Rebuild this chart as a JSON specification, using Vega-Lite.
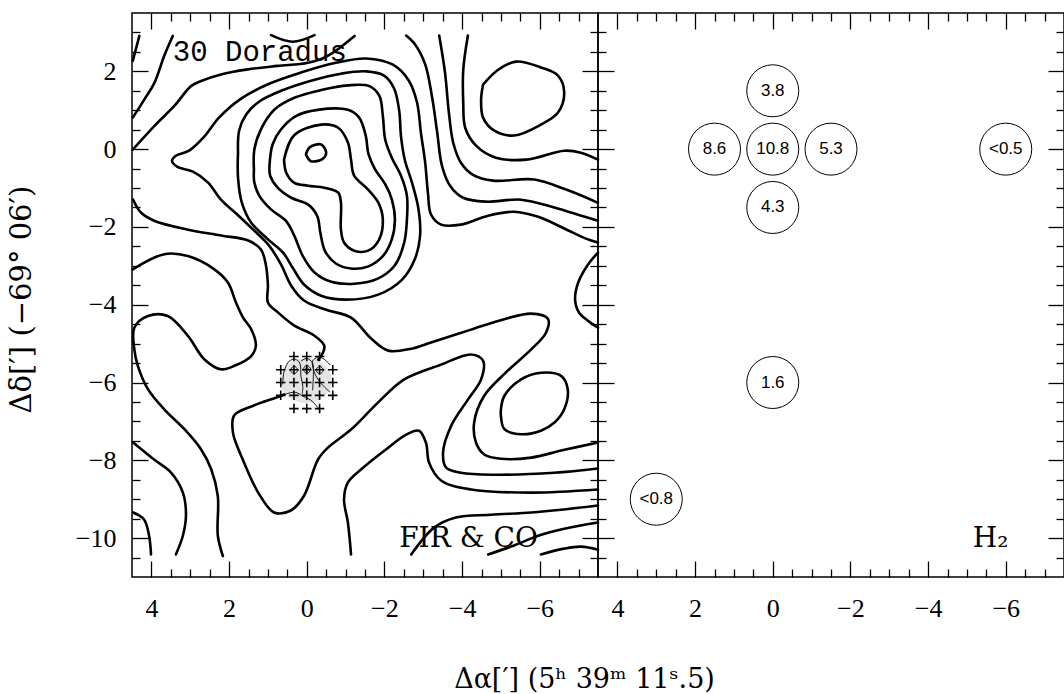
{
  "$schema": "https://vega.github.io/schema/vega-lite/v6.json",
  "background": "white",
  "padding": {"left": 6, "top": 11, "right": 1, "bottom": 0},
  "spacing": 0,
  "bounds": "flush",
  "config": {
    "view": {"stroke": "black", "strokeWidth": 1.5},
    "axis": {
      "grid": false,
      "domain": false,
      "ticks": true,
      "tickColor": "black",
      "tickWidth": 1.3,
      "labelFont": "Liberation Serif",
      "labelFontSize": 26,
      "labelColor": "black",
      "labelOverlap": false,
      "labelFlush": false,
      "labelBound": false,
      "titleFont": "DejaVu Serif",
      "titleFontSize": 27,
      "titleFontWeight": "normal",
      "titleColor": "black"
    }
  },
  "datasets": {
    "fir": [
      {"c":1,"i":0,"x":0.02,"y":-0.14},{"c":1,"i":1,"x":-0.07,"y":0.04},{"c":1,"i":2,"x":-0.37,"y":0.12},{"c":1,"i":3,"x":-0.5,"y":-0.09},{"c":1,"i":4,"x":-0.41,"y":-0.25},{"c":1,"i":5,"x":-0.11,"y":-0.31},{"c":1,"i":6,"x":0.02,"y":-0.14},

      {"c":2,"i":0,"x":0.585,"y":-0.27},{"c":2,"i":1,"x":0.33,"y":0.35},{"c":2,"i":2,"x":-0.37,"y":0.63},{"c":2,"i":3,"x":-0.81,"y":0.55},{"c":2,"i":4,"x":-1.06,"y":0.17},{"c":2,"i":5,"x":-1.14,"y":-0.27},{"c":2,"i":6,"x":-1.22,"y":-0.68},{"c":2,"i":7,"x":-1.58,"y":-1.04},{"c":2,"i":8,"x":-1.84,"y":-1.37},{"c":2,"i":9,"x":-1.96,"y":-1.81},{"c":2,"i":10,"x":-1.86,"y":-2.33},{"c":2,"i":11,"x":-1.58,"y":-2.61},{"c":2,"i":12,"x":-1.22,"y":-2.61},{"c":2,"i":13,"x":-0.96,"y":-2.4},{"c":2,"i":14,"x":-0.88,"y":-2.07},{"c":2,"i":15,"x":-0.88,"y":-1.37},{"c":2,"i":16,"x":-0.81,"y":-1.12},{"c":2,"i":17,"x":-0.45,"y":-0.99},{"c":2,"i":18,"x":-0.03,"y":-0.94},{"c":2,"i":19,"x":0.33,"y":-0.86},{"c":2,"i":20,"x":0.53,"y":-0.6},{"c":2,"i":21,"x":0.585,"y":-0.27},

      {"c":3,"i":0,"x":0.96,"y":-0.43},{"c":3,"i":1,"x":0.88,"y":0.12},{"c":3,"i":2,"x":0.66,"y":0.51},{"c":3,"i":3,"x":0.28,"y":0.85},{"c":3,"i":4,"x":-0.28,"y":1.01},{"c":3,"i":5,"x":-1.06,"y":1.01},{"c":3,"i":6,"x":-1.35,"y":0.81},{"c":3,"i":7,"x":-1.52,"y":0.34},{"c":3,"i":8,"x":-1.59,"y":-0.13},{"c":3,"i":9,"x":-1.76,"y":-0.52},{"c":3,"i":10,"x":-2.02,"y":-0.9},{"c":3,"i":11,"x":-2.19,"y":-1.29},{"c":3,"i":12,"x":-2.27,"y":-1.81},{"c":3,"i":13,"x":-2.19,"y":-2.32},{"c":3,"i":14,"x":-1.96,"y":-2.75},{"c":3,"i":15,"x":-1.57,"y":-3.02},{"c":3,"i":16,"x":-1.14,"y":-3.07},{"c":3,"i":17,"x":-0.75,"y":-2.94},{"c":3,"i":18,"x":-0.47,"y":-2.62},{"c":3,"i":19,"x":-0.35,"y":-2.15},{"c":3,"i":20,"x":-0.27,"y":-1.72},{"c":3,"i":21,"x":-0.03,"y":-1.42},{"c":3,"i":22,"x":0.4,"y":-1.25},{"c":3,"i":23,"x":0.75,"y":-0.99},{"c":3,"i":24,"x":0.94,"y":-0.69},{"c":3,"i":25,"x":0.96,"y":-0.43},

      {"c":4,"i":0,"x":1.36,"y":-0.52},{"c":4,"i":1,"x":1.35,"y":-0.01},{"c":4,"i":2,"x":1.18,"y":0.51},{"c":4,"i":3,"x":0.83,"y":1.02},{"c":4,"i":4,"x":0.32,"y":1.32},{"c":4,"i":5,"x":-0.37,"y":1.52},{"c":4,"i":6,"x":-1.06,"y":1.64},{"c":4,"i":7,"x":-1.61,"y":1.62},{"c":4,"i":8,"x":-1.87,"y":1.37},{"c":4,"i":9,"x":-1.96,"y":0.85},{"c":4,"i":10,"x":-2.02,"y":0.25},{"c":4,"i":11,"x":-2.19,"y":-0.22},{"c":4,"i":12,"x":-2.43,"y":-0.69},{"c":4,"i":13,"x":-2.58,"y":-1.2},{"c":4,"i":14,"x":-2.58,"y":-1.8},{"c":4,"i":15,"x":-2.51,"y":-2.4},{"c":4,"i":16,"x":-2.26,"y":-3.0},{"c":4,"i":17,"x":-1.83,"y":-3.33},{"c":4,"i":18,"x":-1.23,"y":-3.46},{"c":4,"i":19,"x":-0.63,"y":-3.41},{"c":4,"i":20,"x":-0.2,"y":-3.17},{"c":4,"i":21,"x":0.1,"y":-2.75},{"c":4,"i":22,"x":0.32,"y":-2.23},{"c":4,"i":23,"x":0.53,"y":-1.85},{"c":4,"i":24,"x":0.92,"y":-1.55},{"c":4,"i":25,"x":1.22,"y":-1.2},{"c":4,"i":26,"x":1.35,"y":-0.86},{"c":4,"i":27,"x":1.36,"y":-0.52},

      {"c":5,"i":0,"x":1.77,"y":-0.09},{"c":5,"i":1,"x":1.74,"y":0.48},{"c":5,"i":2,"x":1.56,"y":0.89},{"c":5,"i":3,"x":1.23,"y":1.22},{"c":5,"i":4,"x":0.66,"y":1.5},{"c":5,"i":5,"x":-0.11,"y":1.76},{"c":5,"i":6,"x":-0.88,"y":1.94},{"c":5,"i":7,"x":-1.53,"y":2.0},{"c":5,"i":8,"x":-1.99,"y":1.89},{"c":5,"i":9,"x":-2.25,"y":1.56},{"c":5,"i":10,"x":-2.38,"y":0.99},{"c":5,"i":11,"x":-2.43,"y":0.3},{"c":5,"i":12,"x":-2.53,"y":-0.3},{"c":5,"i":13,"x":-2.71,"y":-0.86},{"c":5,"i":14,"x":-2.87,"y":-1.5},{"c":5,"i":15,"x":-2.92,"y":-2.2},{"c":5,"i":16,"x":-2.79,"y":-2.81},{"c":5,"i":17,"x":-2.45,"y":-3.36},{"c":5,"i":18,"x":-1.84,"y":-3.74},{"c":5,"i":19,"x":-1.01,"y":-3.87},{"c":5,"i":20,"x":-0.37,"y":-3.77},{"c":5,"i":21,"x":0.07,"y":-3.48},{"c":5,"i":22,"x":0.35,"y":-3.07},{"c":5,"i":23,"x":0.61,"y":-2.66},{"c":5,"i":24,"x":1.02,"y":-2.3},{"c":5,"i":25,"x":1.43,"y":-1.89},{"c":5,"i":26,"x":1.67,"y":-1.38},{"c":5,"i":27,"x":1.77,"y":-0.73},{"c":5,"i":28,"x":1.77,"y":-0.09},

      {"c":6,"i":0,"x":-7.5,"y":-2.4},{"c":6,"i":1,"x":-7.19,"y":-2.3},{"c":6,"i":2,"x":-6.63,"y":-2.04},{"c":6,"i":3,"x":-5.96,"y":-1.74},{"c":6,"i":4,"x":-5.34,"y":-1.61},{"c":6,"i":5,"x":-4.67,"y":-1.71},{"c":6,"i":6,"x":-3.97,"y":-1.94},{"c":6,"i":7,"x":-3.46,"y":-1.94},{"c":6,"i":8,"x":-3.2,"y":-1.68},{"c":6,"i":9,"x":-3.12,"y":-1.12},{"c":6,"i":10,"x":-3.05,"y":-0.35},{"c":6,"i":11,"x":-2.94,"y":0.42},{"c":6,"i":12,"x":-2.84,"y":1.2},{"c":6,"i":13,"x":-2.63,"y":1.76},{"c":6,"i":14,"x":-2.22,"y":2.17},{"c":6,"i":15,"x":-1.53,"y":2.33},{"c":6,"i":16,"x":-0.75,"y":2.22},{"c":6,"i":17,"x":0.15,"y":1.97},{"c":6,"i":18,"x":0.97,"y":1.68},{"c":6,"i":19,"x":1.69,"y":1.3},{"c":6,"i":20,"x":2.26,"y":0.81},{"c":6,"i":21,"x":2.64,"y":0.32},{"c":6,"i":22,"x":3.03,"y":-0.04},{"c":6,"i":23,"x":3.37,"y":-0.17},{"c":6,"i":24,"x":3.47,"y":-0.3},{"c":6,"i":25,"x":3.34,"y":-0.45},{"c":6,"i":26,"x":2.93,"y":-0.58},{"c":6,"i":27,"x":2.54,"y":-0.86},{"c":6,"i":28,"x":2.21,"y":-1.3},{"c":6,"i":29,"x":1.79,"y":-1.68},{"c":6,"i":30,"x":1.36,"y":-2.09},{"c":6,"i":31,"x":0.97,"y":-2.48},{"c":6,"i":32,"x":0.66,"y":-2.97},{"c":6,"i":33,"x":0.4,"y":-3.51},{"c":6,"i":34,"x":0.07,"y":-3.89},{"c":6,"i":35,"x":-0.5,"y":-4.13},{"c":6,"i":36,"x":-1.14,"y":-4.33},{"c":6,"i":37,"x":-1.66,"y":-4.87},{"c":6,"i":38,"x":-2.1,"y":-5.18},{"c":6,"i":39,"x":-2.69,"y":-5.13},{"c":6,"i":40,"x":-3.2,"y":-4.97},{"c":6,"i":41,"x":-4.23,"y":-4.64},{"c":6,"i":42,"x":-5.13,"y":-4.36},{"c":6,"i":43,"x":-5.78,"y":-4.23},{"c":6,"i":44,"x":-6.21,"y":-4.36},{"c":6,"i":45,"x":-6.16,"y":-4.72},{"c":6,"i":46,"x":-5.78,"y":-5.15},{"c":6,"i":47,"x":-5.13,"y":-5.74},{"c":6,"i":48,"x":-4.57,"y":-6.34},{"c":6,"i":49,"x":-4.31,"y":-7.03},{"c":6,"i":50,"x":-4.36,"y":-7.55},{"c":6,"i":51,"x":-4.57,"y":-7.85},{"c":6,"i":52,"x":-5.0,"y":-7.96},{"c":6,"i":53,"x":-5.78,"y":-7.93},{"c":6,"i":54,"x":-6.55,"y":-7.75},{"c":6,"i":55,"x":-7.5,"y":-7.54},

      {"c":10,"i":0,"x":4.48,"y":2.27},{"c":10,"i":1,"x":4.31,"y":2.91},

      {"c":11,"i":0,"x":3.45,"y":2.91},{"c":11,"i":1,"x":3.67,"y":2.4},{"c":11,"i":2,"x":3.92,"y":1.71},{"c":11,"i":3,"x":4.18,"y":1.28},{"c":11,"i":4,"x":4.48,"y":0.81},

      {"c":12,"i":0,"x":0.92,"y":2.93},{"c":12,"i":1,"x":0.36,"y":2.76},{"c":12,"i":2,"x":-0.2,"y":2.93},

      {"c":13,"i":0,"x":4.48,"y":-0.01},{"c":13,"i":1,"x":3.92,"y":0.6},{"c":13,"i":2,"x":3.41,"y":1.11},{"c":13,"i":3,"x":2.98,"y":1.62},{"c":13,"i":4,"x":2.72,"y":1.75},{"c":13,"i":5,"x":2.21,"y":1.92},{"c":13,"i":6,"x":1.52,"y":2.05},{"c":13,"i":7,"x":0.75,"y":2.14},{"c":13,"i":8,"x":-0.03,"y":2.22},{"c":13,"i":9,"x":-0.54,"y":2.4},{"c":13,"i":10,"x":-1.23,"y":2.91},

      {"c":14,"i":0,"x":-2.56,"y":2.92},{"c":14,"i":1,"x":-2.79,"y":2.69},{"c":14,"i":2,"x":-3.05,"y":2.18},{"c":14,"i":3,"x":-3.23,"y":1.32},{"c":14,"i":4,"x":-3.36,"y":0.42},{"c":14,"i":5,"x":-3.48,"y":-0.42},{"c":14,"i":6,"x":-3.69,"y":-0.94},{"c":14,"i":7,"x":-4.03,"y":-1.25},{"c":14,"i":8,"x":-4.62,"y":-1.35},{"c":14,"i":9,"x":-5.52,"y":-1.3},{"c":14,"i":10,"x":-6.37,"y":-1.5},{"c":14,"i":11,"x":-7.07,"y":-1.71},{"c":14,"i":12,"x":-7.5,"y":-1.84},

      {"c":15,"i":0,"x":-3.41,"y":2.92},{"c":15,"i":1,"x":-3.56,"y":1.97},{"c":15,"i":2,"x":-3.66,"y":0.94},{"c":15,"i":3,"x":-3.77,"y":0.17},{"c":15,"i":4,"x":-3.97,"y":-0.35},{"c":15,"i":5,"x":-4.28,"y":-0.66},{"c":15,"i":6,"x":-4.8,"y":-0.81},{"c":15,"i":7,"x":-5.86,"y":-0.78},{"c":15,"i":8,"x":-6.68,"y":-1.04},{"c":15,"i":9,"x":-7.5,"y":-1.38},

      {"c":16,"i":0,"x":-4.15,"y":2.92},{"c":16,"i":1,"x":-4.03,"y":2.04},{"c":16,"i":2,"x":-4.03,"y":1.19},{"c":16,"i":3,"x":-4.08,"y":0.55},{"c":16,"i":4,"x":-4.36,"y":0.09},{"c":16,"i":5,"x":-4.87,"y":-0.22},{"c":16,"i":6,"x":-5.65,"y":-0.27},{"c":16,"i":7,"x":-6.63,"y":-0.04},{"c":16,"i":8,"x":-7.06,"y":-0.09},{"c":16,"i":9,"x":-7.5,"y":-0.27},

      {"c":17,"i":0,"x":-4.54,"y":1.66},{"c":17,"i":1,"x":-4.93,"y":2.04},{"c":17,"i":2,"x":-5.39,"y":2.25},{"c":17,"i":3,"x":-6.03,"y":2.1},{"c":17,"i":4,"x":-6.47,"y":1.89},{"c":17,"i":5,"x":-6.63,"y":1.45},{"c":17,"i":6,"x":-6.47,"y":0.94},{"c":17,"i":7,"x":-6.03,"y":0.63},{"c":17,"i":8,"x":-5.34,"y":0.35},{"c":17,"i":9,"x":-4.82,"y":0.48},{"c":17,"i":10,"x":-4.54,"y":0.81},{"c":17,"i":11,"x":-4.49,"y":1.27},{"c":17,"i":12,"x":-4.54,"y":1.66},

      {"c":18,"i":0,"x":-7.5,"y":-2.66},{"c":18,"i":1,"x":-7.24,"y":-2.97},{"c":18,"i":2,"x":-6.99,"y":-3.43},{"c":18,"i":3,"x":-6.91,"y":-3.87},{"c":18,"i":4,"x":-7.01,"y":-4.2},{"c":18,"i":5,"x":-7.24,"y":-4.41},{"c":18,"i":6,"x":-7.5,"y":-4.59},

      {"c":20,"i":0,"x":4.47,"y":-1.3},{"c":20,"i":1,"x":4.27,"y":-1.63},{"c":20,"i":2,"x":3.93,"y":-1.84},{"c":20,"i":3,"x":3.06,"y":-2.07},{"c":20,"i":4,"x":2.21,"y":-2.22},{"c":20,"i":5,"x":1.51,"y":-2.35},{"c":20,"i":6,"x":1.18,"y":-2.58},{"c":20,"i":7,"x":1.05,"y":-2.99},{"c":20,"i":8,"x":1.0,"y":-3.51},{"c":20,"i":9,"x":1.0,"y":-3.94},{"c":20,"i":10,"x":0.74,"y":-4.2},{"c":20,"i":11,"x":0.33,"y":-4.53},{"c":20,"i":12,"x":-0.19,"y":-4.79},{"c":20,"i":13,"x":-0.45,"y":-5.05},{"c":20,"i":14,"x":-0.42,"y":-5.23},{"c":20,"i":15,"x":0.02,"y":-5.8},{"c":20,"i":16,"x":0.4,"y":-6.21},{"c":20,"i":17,"x":0.66,"y":-6.34},{"c":20,"i":18,"x":1.36,"y":-6.59},{"c":20,"i":19,"x":1.87,"y":-6.85},{"c":20,"i":20,"x":1.9,"y":-7.29},{"c":20,"i":21,"x":1.69,"y":-7.88},{"c":20,"i":22,"x":1.25,"y":-8.83},{"c":20,"i":23,"x":0.84,"y":-9.34},{"c":20,"i":24,"x":0.41,"y":-9.29},{"c":20,"i":25,"x":0.07,"y":-8.91},{"c":20,"i":26,"x":-0.29,"y":-7.98},{"c":20,"i":27,"x":-0.55,"y":-7.67},{"c":20,"i":28,"x":-1.14,"y":-7.21},{"c":20,"i":29,"x":-1.84,"y":-6.51},{"c":20,"i":30,"x":-2.51,"y":-5.92},{"c":20,"i":31,"x":-3.46,"y":-5.54},{"c":20,"i":32,"x":-4.23,"y":-5.28},{"c":20,"i":33,"x":-4.54,"y":-5.44},{"c":20,"i":34,"x":-4.49,"y":-5.92},{"c":20,"i":35,"x":-4.15,"y":-6.44},{"c":20,"i":36,"x":-3.72,"y":-7.11},{"c":20,"i":37,"x":-3.51,"y":-7.8},{"c":20,"i":38,"x":-3.59,"y":-8.19},{"c":20,"i":39,"x":-3.97,"y":-8.32},{"c":20,"i":40,"x":-4.82,"y":-8.37},{"c":20,"i":41,"x":-6.37,"y":-8.32},{"c":20,"i":42,"x":-7.5,"y":-8.21},

      {"c":21,"i":0,"x":4.48,"y":-3.09},{"c":21,"i":1,"x":3.67,"y":-2.7},{"c":21,"i":2,"x":3.06,"y":-2.75},{"c":21,"i":3,"x":2.38,"y":-3.09},{"c":21,"i":4,"x":2.03,"y":-3.43},{"c":21,"i":5,"x":1.82,"y":-3.95},{"c":21,"i":6,"x":1.64,"y":-4.33},{"c":21,"i":7,"x":1.43,"y":-4.63},{"c":21,"i":8,"x":1.31,"y":-5.06},{"c":21,"i":9,"x":1.43,"y":-5.32},{"c":21,"i":10,"x":1.86,"y":-5.57},{"c":21,"i":11,"x":2.21,"y":-5.66},{"c":21,"i":12,"x":2.64,"y":-5.4},{"c":21,"i":13,"x":3.06,"y":-4.8},{"c":21,"i":14,"x":3.58,"y":-4.29},{"c":21,"i":15,"x":4.09,"y":-4.29},{"c":21,"i":16,"x":4.44,"y":-4.59},{"c":21,"i":17,"x":4.44,"y":-5.15},{"c":21,"i":18,"x":4.35,"y":-5.57},{"c":21,"i":19,"x":4.09,"y":-6.17},{"c":21,"i":20,"x":3.67,"y":-6.69},{"c":21,"i":21,"x":3.15,"y":-7.2},{"c":21,"i":22,"x":2.72,"y":-7.72},{"c":21,"i":23,"x":2.46,"y":-8.23},{"c":21,"i":24,"x":2.29,"y":-8.92},{"c":21,"i":25,"x":2.29,"y":-9.94},{"c":21,"i":26,"x":2.16,"y":-10.46},

      {"c":30,"i":0,"x":-5.0,"y":-6.69},{"c":30,"i":1,"x":-5.09,"y":-6.34},{"c":30,"i":2,"x":-5.52,"y":-5.92},{"c":30,"i":3,"x":-6.03,"y":-5.75},{"c":30,"i":4,"x":-6.55,"y":-5.83},{"c":30,"i":5,"x":-6.72,"y":-6.17},{"c":30,"i":6,"x":-6.63,"y":-6.69},{"c":30,"i":7,"x":-6.38,"y":-7.03},{"c":30,"i":8,"x":-6.03,"y":-7.24},{"c":30,"i":9,"x":-5.52,"y":-7.33},{"c":30,"i":10,"x":-5.09,"y":-7.2},{"c":30,"i":11,"x":-5.0,"y":-6.86},{"c":30,"i":12,"x":-5.0,"y":-6.69},

      {"c":40,"i":0,"x":-2.69,"y":-10.42},{"c":40,"i":1,"x":-3.28,"y":-9.73},{"c":40,"i":2,"x":-3.84,"y":-9.47},{"c":40,"i":3,"x":-4.74,"y":-9.4},{"c":40,"i":4,"x":-5.78,"y":-9.34},{"c":40,"i":5,"x":-6.55,"y":-9.27},{"c":40,"i":6,"x":-7.5,"y":-9.16},

      {"c":41,"i":0,"x":-4.67,"y":-10.42},{"c":41,"i":1,"x":-5.34,"y":-10.19},{"c":41,"i":2,"x":-5.96,"y":-9.94},{"c":41,"i":3,"x":-6.63,"y":-9.76},{"c":41,"i":4,"x":-7.5,"y":-9.6},

      {"c":42,"i":0,"x":-6.03,"y":-10.42},{"c":42,"i":1,"x":-6.63,"y":-10.27},{"c":42,"i":2,"x":-7.07,"y":-10.22},{"c":42,"i":3,"x":-7.5,"y":-10.3},

      {"c":43,"i":0,"x":4.47,"y":-9.34},{"c":43,"i":1,"x":4.19,"y":-9.52},{"c":43,"i":2,"x":4.06,"y":-9.94},{"c":43,"i":3,"x":4.01,"y":-10.42},

      {"c":44,"i":0,"x":4.47,"y":-7.54},{"c":44,"i":1,"x":3.93,"y":-7.98},{"c":44,"i":2,"x":3.5,"y":-8.31},{"c":44,"i":3,"x":3.19,"y":-8.83},{"c":44,"i":4,"x":3.11,"y":-9.42},{"c":44,"i":5,"x":3.19,"y":-9.94},{"c":44,"i":6,"x":3.37,"y":-10.42},

      {"c":45,"i":0,"x":-1.14,"y":-10.42},{"c":45,"i":1,"x":-1.06,"y":-9.6},{"c":45,"i":2,"x":-0.96,"y":-9.01},{"c":45,"i":3,"x":-1.06,"y":-8.57},{"c":45,"i":4,"x":-1.45,"y":-8.19},{"c":45,"i":5,"x":-2.04,"y":-7.72},{"c":45,"i":6,"x":-2.56,"y":-7.34},{"c":45,"i":7,"x":-2.89,"y":-7.24},{"c":45,"i":8,"x":-3.07,"y":-7.55},{"c":45,"i":9,"x":-3.15,"y":-8.06},{"c":45,"i":10,"x":-3.46,"y":-8.52},{"c":45,"i":11,"x":-4.23,"y":-8.75},{"c":45,"i":12,"x":-5.78,"y":-8.83},{"c":45,"i":13,"x":-7.5,"y":-8.75}
    ],
    "coField": [{"x": 0.02, "y": -5.95}],
    "co": [
      {"c":1,"i":0,"x":0.43,"y":-5.68},{"c":1,"i":1,"x":0.33,"y":-5.58},{"c":1,"i":2,"x":0.23,"y":-5.68},{"c":1,"i":3,"x":0.33,"y":-5.78},{"c":1,"i":4,"x":0.43,"y":-5.68},
      {"c":2,"i":0,"x":0.1,"y":-5.66},{"c":2,"i":1,"x":0.0,"y":-5.55},{"c":2,"i":2,"x":-0.1,"y":-5.66},{"c":2,"i":3,"x":0.0,"y":-5.77},{"c":2,"i":4,"x":0.1,"y":-5.66},
      {"c":3,"i":0,"x":0.05,"y":-5.66},{"c":3,"i":1,"x":0.0,"y":-5.61},{"c":3,"i":2,"x":-0.05,"y":-5.66},{"c":3,"i":3,"x":0.0,"y":-5.71},{"c":3,"i":4,"x":0.05,"y":-5.66},
      {"c":4,"i":0,"x":-0.23,"y":-5.68},{"c":4,"i":1,"x":-0.33,"y":-5.58},{"c":4,"i":2,"x":-0.43,"y":-5.68},{"c":4,"i":3,"x":-0.33,"y":-5.78},{"c":4,"i":4,"x":-0.23,"y":-5.68},
      {"c":5,"i":0,"x":0.62,"y":-6.05},{"c":5,"i":1,"x":0.58,"y":-5.7},{"c":5,"i":2,"x":0.45,"y":-5.45},{"c":5,"i":3,"x":0.3,"y":-5.4},{"c":5,"i":4,"x":0.18,"y":-5.5},{"c":5,"i":5,"x":0.15,"y":-5.85},{"c":5,"i":6,"x":0.1,"y":-6.1},{"c":5,"i":7,"x":0.12,"y":-6.3},
      {"c":6,"i":0,"x":-0.15,"y":-6.2},{"c":6,"i":1,"x":-0.17,"y":-5.8},{"c":6,"i":2,"x":-0.15,"y":-5.5},{"c":6,"i":3,"x":0.0,"y":-5.38},{"c":6,"i":4,"x":0.15,"y":-5.45},
      {"c":7,"i":0,"x":0.55,"y":-6.3},{"c":7,"i":1,"x":0.3,"y":-6.25},{"c":7,"i":2,"x":0.1,"y":-6.35},{"c":7,"i":3,"x":-0.1,"y":-6.45},{"c":7,"i":4,"x":-0.25,"y":-6.6},{"c":7,"i":5,"x":-0.35,"y":-6.75},
      {"c":8,"i":0,"x":-0.6,"y":-5.55},{"c":8,"i":1,"x":-0.45,"y":-5.4},{"c":8,"i":2,"x":-0.3,"y":-5.35},{"c":8,"i":3,"x":-0.15,"y":-5.45},{"c":8,"i":4,"x":-0.2,"y":-5.75},{"c":8,"i":5,"x":-0.35,"y":-6.0},{"c":8,"i":6,"x":-0.6,"y":-6.25}
    ],
    "coGrid": [
      {"x":0.33,"y":-5.33},{"x":0,"y":-5.33},{"x":-0.33,"y":-5.33},
      {"x":0.67,"y":-5.67},{"x":0.33,"y":-5.67},{"x":0,"y":-5.67},{"x":-0.33,"y":-5.67},{"x":-0.67,"y":-5.67},
      {"x":0.67,"y":-6.0},{"x":0.33,"y":-6.0},{"x":0,"y":-6.0},{"x":-0.33,"y":-6.0},{"x":-0.67,"y":-6.0},
      {"x":0.67,"y":-6.33},{"x":0.33,"y":-6.33},{"x":0,"y":-6.33},{"x":-0.33,"y":-6.33},{"x":-0.67,"y":-6.33},
      {"x":0.33,"y":-6.67},{"x":0,"y":-6.67},{"x":-0.33,"y":-6.67}
    ],
    "h2": [
      {"x":0,"y":1.5,"t":"3.8"},
      {"x":1.5,"y":0,"t":"8.6"},
      {"x":0,"y":0,"t":"10.8"},
      {"x":-1.5,"y":0,"t":"5.3"},
      {"x":0,"y":-1.5,"t":"4.3"},
      {"x":-6,"y":0,"t":"<0.5"},
      {"x":0,"y":-6,"t":"1.6"},
      {"x":3,"y":-9,"t":"<0.8"}
    ]
  },
  "hconcat": [
    {
      "width": 466,
      "height": 564,
      "layer": [
        {
          "layer": [
            {
              "data": {"name": "fir"},
              "mark": {"type": "line", "color": "black", "strokeWidth": 2.6, "strokeJoin": "round", "strokeCap": "round", "interpolate": "catmull-rom"},
              "encoding": {
                "x": {
                  "field": "x", "type": "quantitative",
                  "scale": {"domain": [4.5, -7.5], "nice": false, "zero": false},
                  "axis": {
                    "orient": "bottom",
                    "title": "Δα[′] (5ʰ 39ᵐ 11ˢ.5)",
                    "titleFontSize": 27,
                    "titleX": 452, "titleY": 102,
                    "titleAlign": "center", "titleBaseline": "middle",
                    "values": [4, 2, 0, -2, -4, -6],
                    "tickSize": -16,
                    "labelPadding": 34
                  }
                },
                "y": {
                  "field": "y", "type": "quantitative",
                  "scale": {"domain": [-11, 3.5], "nice": false, "zero": false},
                  "axis": {
                    "orient": "left",
                    "title": "Δδ[′] (−69° 06′)",
                    "titleFontSize": 29,
                    "titleX": -111, "titleY": 286,
                    "titleAlign": "center", "titleBaseline": "middle", "titleAngle": -90,
                    "values": [2, 0, -2, -4, -6, -8, -10],
                    "tickSize": -16,
                    "labelPadding": 32
                  }
                },
                "detail": {"field": "c"},
                "order": {"field": "i"}
              }
            },
            {
              "data": {"name": "coField"},
              "mark": {"type": "point", "shape": "M -1 0 A 1 0.86 0 1 1 1 0 A 1 0.86 0 1 1 -1 0 Z", "size": 2704, "filled": true, "fill": "#e4e4e4", "opacity": 1, "strokeWidth": 0},
              "encoding": {
                "x": {"field": "x", "type": "quantitative"},
                "y": {"field": "y", "type": "quantitative"}
              }
            },
            {
              "data": {"name": "co"},
              "mark": {"type": "line", "color": "black", "strokeWidth": 0.9, "interpolate": "catmull-rom"},
              "encoding": {
                "x": {"field": "x", "type": "quantitative"},
                "y": {"field": "y", "type": "quantitative"},
                "detail": {"field": "c"},
                "order": {"field": "i"}
              }
            },
            {
              "data": {"name": "coGrid"},
              "mark": {"type": "point", "shape": "M -1 0 L 1 0 M 0 -1 L 0 1", "size": 90, "filled": false, "stroke": "black", "strokeWidth": 1.6, "opacity": 1},
              "encoding": {
                "x": {"field": "x", "type": "quantitative"},
                "y": {"field": "y", "type": "quantitative"}
              }
            },
            {
              "data": {"values": [{"x": 3.45, "y": 2.27, "t": "30 Doradus"}]},
              "mark": {"type": "text", "align": "left", "baseline": "alphabetic", "font": "Liberation Mono", "fontSize": 29, "color": "black"},
              "encoding": {
                "x": {"field": "x", "type": "quantitative"},
                "y": {"field": "y", "type": "quantitative"},
                "text": {"field": "t"}
              }
            },
            {
              "data": {"values": [{"x": -2.38, "y": -10.24, "t": "FIR & CO"}]},
              "mark": {"type": "text", "align": "left", "baseline": "alphabetic", "font": "DejaVu Serif", "fontSize": 28, "color": "black"},
              "encoding": {
                "x": {"field": "x", "type": "quantitative"},
                "y": {"field": "y", "type": "quantitative"},
                "text": {"field": "t"}
              }
            }
          ]
        },
        {
          "data": {"name": "coGrid"},
          "mark": {"type": "point", "opacity": 0},
          "encoding": {
            "x": {"field": "x", "type": "quantitative", "axis": {"orient": "bottom", "title": null, "labels": false, "tickSize": -8, "values": [3.5,3,2.5,1.5,1,0.5,-0.5,-1,-1.5,-2.5,-3,-3.5,-4.5,-5,-5.5,-6.5,-7]}},
            "y": {"field": "y", "type": "quantitative", "axis": {"orient": "left", "title": null, "labels": false, "tickSize": -8, "values": [3,2.5,1.5,1,0.5,-0.5,-1,-1.5,-2.5,-3,-3.5,-4.5,-5,-5.5,-6.5,-7,-7.5,-8.5,-9,-9.5,-10.5]}}
          }
        },
        {
          "data": {"name": "coGrid"},
          "mark": {"type": "point", "opacity": 0},
          "encoding": {
            "x": {"field": "x", "type": "quantitative", "axis": {"orient": "top", "title": null, "labels": false, "tickSize": -16, "values": [4, 2, 0, -2, -4, -6]}},
            "y": {"field": "y", "type": "quantitative", "axis": {"orient": "right", "title": null, "labels": false, "tickSize": -16, "values": [2, 0, -2, -4, -6, -8, -10]}}
          }
        },
        {
          "data": {"name": "coGrid"},
          "mark": {"type": "point", "opacity": 0},
          "encoding": {
            "x": {"field": "x", "type": "quantitative", "axis": {"orient": "top", "title": null, "labels": false, "tickSize": -8, "values": [3.5,3,2.5,1.5,1,0.5,-0.5,-1,-1.5,-2.5,-3,-3.5,-4.5,-5,-5.5,-6.5,-7]}},
            "y": {"field": "y", "type": "quantitative", "axis": {"orient": "right", "title": null, "labels": false, "tickSize": -8, "values": [3,2.5,1.5,1,0.5,-0.5,-1,-1.5,-2.5,-3,-3.5,-4.5,-5,-5.5,-6.5,-7,-7.5,-8.5,-9,-9.5,-10.5]}}
          }
        }
      ],
      "resolve": {"axis": {"x": "independent", "y": "independent"}}
    },
    {
      "width": 466,
      "height": 564,
      "layer": [
        {
          "layer": [
            {
              "data": {"name": "h2"},
              "mark": {"type": "point", "shape": "circle", "size": 2704, "filled": false, "stroke": "black", "strokeWidth": 1, "opacity": 1},
              "encoding": {
                "x": {
                  "field": "x", "type": "quantitative",
                  "scale": {"domain": [4.5, -7.5], "nice": false, "zero": false},
                  "axis": {"orient": "bottom", "title": null, "values": [4, 2, 0, -2, -4, -6], "tickSize": -16, "labelPadding": 34}
                },
                "y": {
                  "field": "y", "type": "quantitative",
                  "scale": {"domain": [-11, 3.5], "nice": false, "zero": false},
                  "axis": {"orient": "left", "title": null, "labels": false, "values": [2, 0, -2, -4, -6, -8, -10], "tickSize": -16}
                }
              }
            },
            {
              "data": {"name": "h2"},
              "mark": {"type": "text", "font": "Liberation Sans", "fontSize": 17, "color": "black", "align": "center", "baseline": "middle"},
              "encoding": {
                "x": {"field": "x", "type": "quantitative"},
                "y": {"field": "y", "type": "quantitative"},
                "text": {"field": "t"}
              }
            },
            {
              "data": {"values": [{"x": -5.15, "y": -10.24, "t": "H₂"}]},
              "mark": {"type": "text", "align": "left", "baseline": "alphabetic", "font": "DejaVu Serif", "fontSize": 28, "color": "black"},
              "encoding": {
                "x": {"field": "x", "type": "quantitative"},
                "y": {"field": "y", "type": "quantitative"},
                "text": {"field": "t"}
              }
            }
          ]
        },
        {
          "data": {"name": "h2"},
          "mark": {"type": "point", "opacity": 0},
          "encoding": {
            "x": {"field": "x", "type": "quantitative", "axis": {"orient": "bottom", "title": null, "labels": false, "tickSize": -8, "values": [3.5,3,2.5,1.5,1,0.5,-0.5,-1,-1.5,-2.5,-3,-3.5,-4.5,-5,-5.5,-6.5,-7]}},
            "y": {"field": "y", "type": "quantitative", "axis": {"orient": "left", "title": null, "labels": false, "tickSize": -8, "values": [3,2.5,1.5,1,0.5,-0.5,-1,-1.5,-2.5,-3,-3.5,-4.5,-5,-5.5,-6.5,-7,-7.5,-8.5,-9,-9.5,-10.5]}}
          }
        },
        {
          "data": {"name": "h2"},
          "mark": {"type": "point", "opacity": 0},
          "encoding": {
            "x": {"field": "x", "type": "quantitative", "axis": {"orient": "top", "title": null, "labels": false, "tickSize": -16, "values": [4, 2, 0, -2, -4, -6]}},
            "y": {"field": "y", "type": "quantitative", "axis": {"orient": "right", "title": null, "labels": false, "tickSize": -16, "values": [2, 0, -2, -4, -6, -8, -10]}}
          }
        },
        {
          "data": {"name": "h2"},
          "mark": {"type": "point", "opacity": 0},
          "encoding": {
            "x": {"field": "x", "type": "quantitative", "axis": {"orient": "top", "title": null, "labels": false, "tickSize": -8, "values": [3.5,3,2.5,1.5,1,0.5,-0.5,-1,-1.5,-2.5,-3,-3.5,-4.5,-5,-5.5,-6.5,-7]}},
            "y": {"field": "y", "type": "quantitative", "axis": {"orient": "right", "title": null, "labels": false, "tickSize": -8, "values": [3,2.5,1.5,1,0.5,-0.5,-1,-1.5,-2.5,-3,-3.5,-4.5,-5,-5.5,-6.5,-7,-7.5,-8.5,-9,-9.5,-10.5]}}
          }
        }
      ],
      "resolve": {"axis": {"x": "independent", "y": "independent"}}
    }
  ]
}
